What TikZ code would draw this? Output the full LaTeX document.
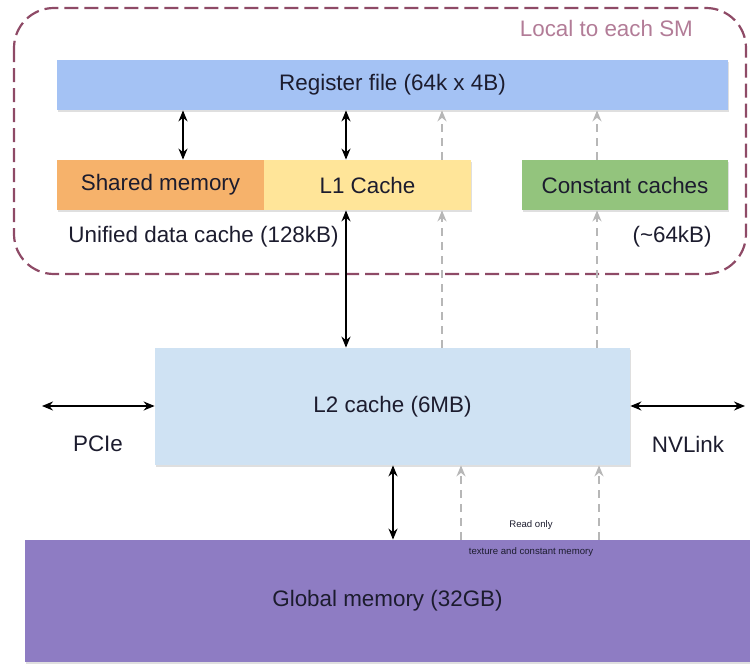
\documentclass[tikz,border=0pt]{standalone}
\usepackage{fontspec}
\setmainfont{Liberation Sans}
\usetikzlibrary{arrows.meta,positioning,calc,shadows}
\definecolor{regblue}{HTML}{A4C2F4}
\definecolor{shorange}{HTML}{F6B26B}
\definecolor{lonecream}{HTML}{FFE599}
\definecolor{constgreen}{HTML}{93C47D}
\definecolor{ltwoblue}{HTML}{CFE2F3}
\definecolor{globpurple}{HTML}{8E7CC3}
\definecolor{smframe}{HTML}{8E4A66}
\definecolor{smtext}{HTML}{B27C97}
\definecolor{ink}{HTML}{1C1C2E}
\definecolor{rogray}{HTML}{B7B7B7}
\tikzset{
  membox/.style={draw=none, align=center, minimum height=25pt, inner sep=0pt, text=ink,
    font=\fontsize{11.2}{13}\selectfont,
    drop shadow={opacity=0.25, shadow xshift=0.6pt, shadow yshift=-0.8pt}},
  regbox/.style={membox, fill=regblue},
  shbox/.style={membox, fill=shorange},
  lonebox/.style={membox, fill=lonecream},
  constbox/.style={membox, fill=constgreen},
  ltwobox/.style={membox, fill=ltwoblue},
  globbox/.style={membox, fill=globpurple},
  lbl/.style={text=ink, font=\fontsize{11.2}{13}\selectfont, inner sep=0pt},
  tinylbl/.style={text=ink, font=\fontsize{4.8}{6}\selectfont, inner sep=0pt},
  dblarrow/.style={{Stealth[length=5.5pt,width=4.5pt]}-{Stealth[length=5.5pt,width=4.5pt]}, line width=0.8pt, draw=black},
  roarrow/.style={-{Stealth[length=5.5pt,width=4.5pt]}, line width=0.8pt, draw=rogray, dash pattern=on 4pt off 3pt}
}

\begin{document}
\begin{tikzpicture}[x=0.5pt, y=-0.5pt]
  \useasboundingbox (0,0) rectangle (750,664);
  % per-SM frame
  \draw[smframe, line width=1.1pt, dash pattern=on 7pt off 3pt, rounded corners=20pt] (14,8) rectangle (746,274);
  \node[text=smtext, font=\fontsize{11.2}{13}\selectfont, anchor=east] (smlbl) at (700,28) {Local to each SM};
  % on-chip storage
  \node[regbox, minimum width=335.5pt] (reg) at (392.5,85) {Register file (64k x 4B)};
  \node[shbox, minimum width=103.5pt] (shmem) at (160.5,185) {Shared memory};
  \node[lonebox, minimum width=103.5pt] (lone) at (367.5,185) {L1 Cache};
  \node[constbox, minimum width=103pt] (const) at (625,185) {Constant caches};
  \node[lbl, anchor=west] (unified) at (68,237) {Unified data cache (128kB)};
  \node[lbl, anchor=east] (constsize) at (712,237) {(\textasciitilde 64kB)};
  % off-chip
  \node[ltwobox, minimum width=237.5pt, minimum height=58.5pt] (ltwo) at (392.5,406.5) {L2 cache (6MB)};
  \node[globbox, minimum width=362.5pt, minimum height=61pt] (glob) at (387.5,601) {Global memory (32GB)};
  \node[lbl] (pcie) at (98,444) {PCIe};
  \node[lbl] (nvlink) at (688,444) {NVLink};
  \node[tinylbl] (readonly) at (531,525) {Read only};
  \node[tinylbl] (texmem) at (531,552) {texture and constant memory};
  \coordinate (pcieend) at (42,406);
  \coordinate (nvend) at (745,406);
  % arrow columns
  \coordinate (cshared) at (183,0);
  \coordinate (clone) at (346,0);
  \coordinate (ctexa) at (442,0);
  \coordinate (cconsta) at (597,0);
  \coordinate (cglob) at (393,0);
  \coordinate (ctexb) at (461,0);
  \coordinate (cconstb) at (599,0);
  \draw[dblarrow] (cshared |- shmem.north) -- (cshared |- reg.south);
  \draw[dblarrow] (clone |- lone.north) -- (clone |- reg.south);
  \draw[dblarrow] (clone |- ltwo.north) -- (clone |- lone.south);
  \draw[roarrow] (ctexa |- lone.north) -- (ctexa |- reg.south);
  \draw[roarrow] (ctexa |- ltwo.north) -- (ctexa |- lone.south);
  \draw[roarrow] (cconsta |- const.north) -- (cconsta |- reg.south);
  \draw[roarrow] (cconsta |- ltwo.north) -- (cconsta |- const.south);
  \draw[dblarrow] (cglob |- glob.north) -- (cglob |- ltwo.south);
  \draw[roarrow] (ctexb |- glob.north) -- (ctexb |- ltwo.south);
  \draw[roarrow] (cconstb |- glob.north) -- (cconstb |- ltwo.south);
  \draw[dblarrow] (pcieend) -- (ltwo.west |- pcieend);
  \draw[dblarrow] (ltwo.east |- nvend) -- (nvend);
\end{tikzpicture}
\end{document}
